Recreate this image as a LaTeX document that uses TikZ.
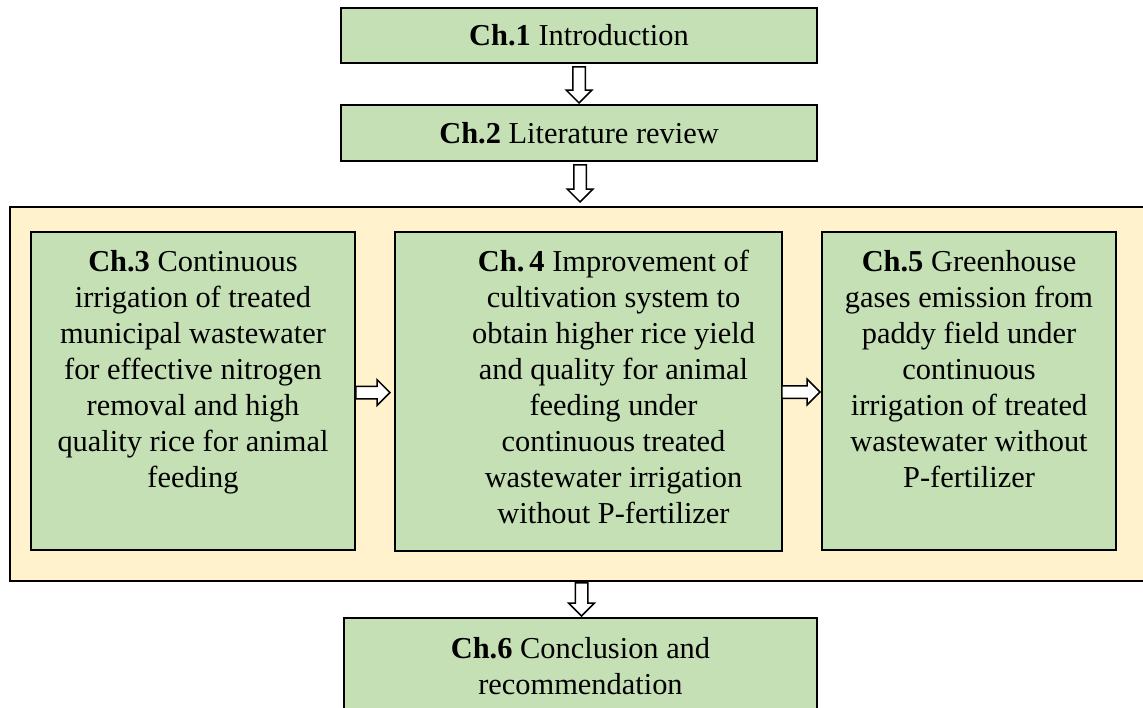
\documentclass[tikz,border=0pt]{standalone}
\usepackage{fontspec}
\setmainfont{Liberation Serif}
\usetikzlibrary{shapes.arrows,calc,shadows}
\definecolor{boxgreen}{HTML}{C5E0B4}
\definecolor{boxbeige}{HTML}{FFF2CC}
\tikzset{
  chbox/.style={draw=black, line width=1pt, fill=boxgreen, rectangle, inner sep=0pt,
    general shadow={fill=black!30, shadow xshift=0.6pt, shadow yshift=-0.6pt}},
  chtext/.style={inner sep=0pt, align=center, font=\fontsize{15.2}{18}\selectfont},
  barrow/.style={single arrow, draw=black, line width=0.75pt, fill=white, inner sep=0pt,
    inner ysep=2.75pt, single arrow head extend=3.25pt},
}
\begin{document}
\begin{tikzpicture}[x=0.5pt, y=-0.5pt]
\useasboundingbox (0,0) rectangle (1143,707);
\clip (0,0) rectangle (1143,707);
% outer frame
\node[draw=black, line width=1pt, fill=boxbeige, rectangle, inner sep=0pt,
  general shadow={fill=black!25, shadow xshift=0.6pt, shadow yshift=-0.6pt},
  minimum width=570pt, minimum height=187pt] (outer) at (580,394) {};
% boxes
\node[chbox, minimum width=238pt, minimum height=27.5pt] (c1) at (579,35.5)
  {\fontsize{15.2}{18}\selectfont\textbf{Ch.1} Introduction};
\node[chbox, minimum width=238pt, minimum height=28pt] (c2) at (579,133)
  {\fontsize{15.2}{18}\selectfont\textbf{Ch.2} Literature review};
\node[chbox, minimum width=162pt, minimum height=159pt] (c3) at (193,391) {};
\node[chbox, minimum width=193.5pt, minimum height=159.5pt] (c4) at (588.5,391.5) {};
\node[chbox, minimum width=147pt, minimum height=159pt] (c5) at (969,391) {};
\node[chbox, minimum width=236.5pt, minimum height=51pt] (c6) at (580.5,669) {};
% texts
\node[chtext, anchor=north] (t3) at ([yshift=-9.5pt]c3.north)
  {\textbf{Ch.3} Continuous\\ irrigation of treated\\ municipal wastewater\\ for effective nitrogen\\ removal and high\\ quality rice for animal\\ feeding};
\node[chtext, anchor=north] (t4) at ([xshift=12.5pt, yshift=-9.5pt]c4.north)
  {\textbf{Ch.\,4} Improvement of\\ cultivation system to\\ obtain higher rice yield\\ and quality for animal\\ feeding under\\ continuous treated\\ wastewater irrigation\\ without P-fertilizer};
\node[chtext, anchor=north] (t5) at ([yshift=-9.5pt]c5.north)
  {\textbf{Ch.5} Greenhouse\\ gases emission from\\ paddy field under\\ continuous\\ irrigation of treated\\ wastewater without\\ P-fertilizer};
\node[chtext, anchor=north] (t6) at ([yshift=-10pt]c6.north)
  {\textbf{Ch.6} Conclusion and\\ recommendation};
% arrows
\node[barrow, rotate=-90, anchor=tip, minimum height=18pt] (a1) at (c2.north) {};
\node[barrow, rotate=-90, anchor=tip, minimum height=18.5pt] (a2) at ([yshift=1.5pt]outer.north) {};
\node[barrow, rotate=-90, anchor=tip, minimum height=16.5pt] (a3) at ([xshift=0.5pt]c6.north) {};
\node[barrow, anchor=tip, minimum height=17pt] (h1) at ([xshift=-1.5pt, yshift=-0.5pt]c4.west) {};
\node[barrow, anchor=tip, minimum height=19pt] (h2) at ([yshift=-0.5pt]c5.west) {};
\end{tikzpicture}
\end{document}
